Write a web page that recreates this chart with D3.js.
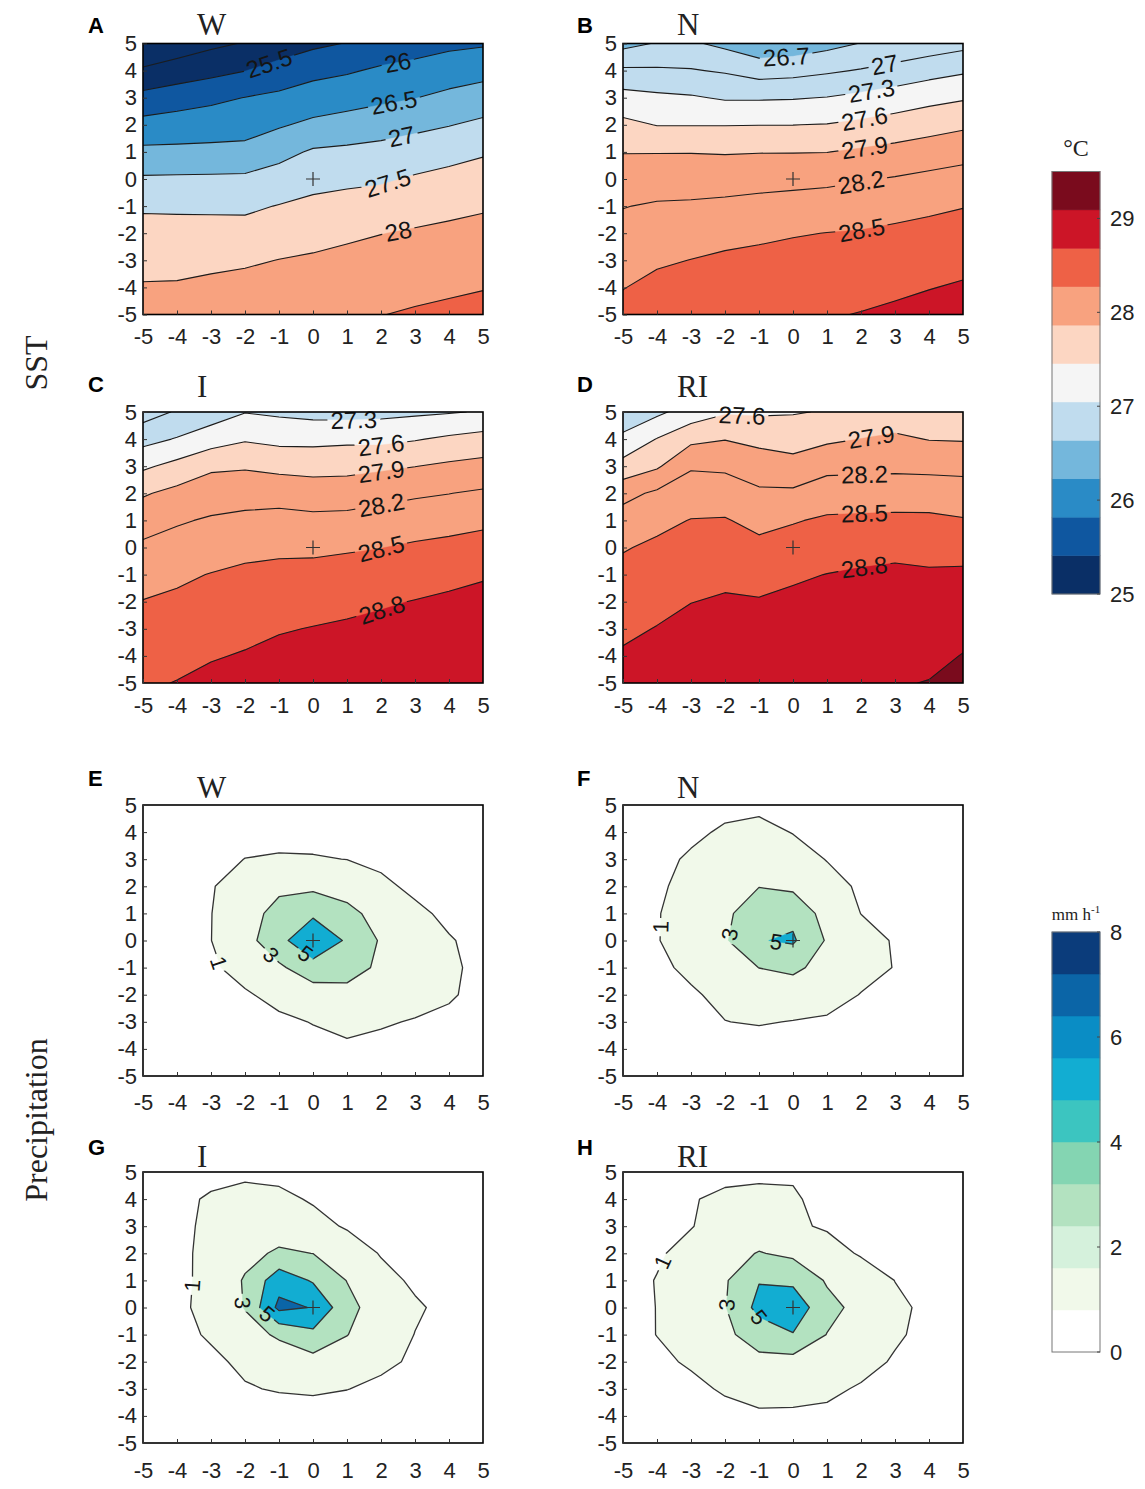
<!DOCTYPE html>
<html>
<head>
<meta charset="utf-8">
<script src="https://cdn.jsdelivr.net/npm/d3@7"></script>
<style>
  body { margin: 0; background: #fff; }
</style>
</head>
<body>
<div id="fig"></div>
<script>
// ---- data (11 x 11 grids, rows y = 5 .. -5, cols x = -5 .. 5) ----
const ticks = [-5, -4, -3, -2, -1, 0, 1, 2, 3, 4, 5];

const sstW = [
  24.6, 24.75, 24.9, 25.03, 25.2, 25.4, 25.52, 25.7, 25.8, 25.9, 25.95,
  25.06, 25.2, 25.35, 25.49, 25.7, 25.86, 25.95, 26.07, 26.15, 26.25, 26.34,
  25.66, 25.8, 25.9, 26.01, 26.1, 26.23, 26.3, 26.4, 26.49, 26.62, 26.73,
  26.16, 26.2, 26.25, 26.29, 26.45, 26.6, 26.7, 26.79, 26.88, 26.98, 27.1,
  26.61, 26.62, 26.63, 26.65, 26.85, 27.06, 27.1, 27.15, 27.25, 27.35, 27.45,
  27.06, 27.07, 27.08, 27.09, 27.2, 27.35, 27.4, 27.44, 27.55, 27.63, 27.71,
  27.44, 27.43, 27.42, 27.41, 27.52, 27.61, 27.67, 27.72, 27.8, 27.88, 27.95,
  27.66, 27.66, 27.67, 27.68, 27.76, 27.84, 27.92, 27.99, 28.05, 28.1, 28.14,
  27.85, 27.88, 27.9, 27.93, 28.01, 28.06, 28.12, 28.18, 28.23, 28.27, 28.31,
  28.04, 28.04, 28.1, 28.17, 28.2, 28.25, 28.3, 28.36, 28.38, 28.43, 28.48,
  28.2, 28.25, 28.33, 28.4, 28.42, 28.44, 28.47, 28.49, 28.55, 28.6, 28.65
];
const sstN = [
  26.61, 26.72, 26.74, 26.63, 26.5, 26.52, 26.61, 26.71, 26.76, 26.83, 26.91,
  27.05, 27.04, 27.02, 26.97, 26.87, 26.9, 26.96, 27.02, 27.1, 27.19, 27.26,
  27.41, 27.36, 27.33, 27.27, 27.27, 27.28, 27.31, 27.37, 27.44, 27.51, 27.57,
  27.67, 27.59, 27.59, 27.59, 27.595, 27.597, 27.61, 27.66, 27.72, 27.79, 27.85,
  27.89, 27.89, 27.89, 27.88, 27.89, 27.89, 27.895, 27.94, 27.99, 28.04, 28.1,
  28.04, 28.06, 28.07, 28.08, 28.1, 28.12, 28.14, 28.18, 28.22, 28.27, 28.31,
  28.19, 28.23, 28.24, 28.26, 28.29, 28.31, 28.33, 28.36, 28.41, 28.45, 28.49,
  28.29, 28.35, 28.37, 28.41, 28.44, 28.48, 28.505, 28.52, 28.55, 28.58, 28.61,
  28.4, 28.46, 28.505, 28.55, 28.58, 28.6, 28.59, 28.62, 28.65, 28.68, 28.72,
  28.49, 28.58, 28.63, 28.68, 28.7, 28.7, 28.69, 28.72, 28.75, 28.79, 28.83,
  28.6, 28.67, 28.75, 28.78, 28.78, 28.79, 28.78, 28.81, 28.85, 28.9, 28.95
];
const sstI = [
  26.87, 27.03, 27.15, 27.29, 27.25, 27.21, 27.2, 27.22, 27.25, 27.28, 27.32,
  27.2, 27.32, 27.46, 27.57, 27.52, 27.52, 27.54, 27.53, 27.58, 27.65, 27.71,
  27.55, 27.69, 27.85, 27.87, 27.82, 27.8, 27.81, 27.85, 27.895, 27.95, 27.99,
  27.87, 27.98, 28.06, 28.08, 28.09, 28.05, 28.06, 28.11, 28.16, 28.195, 28.24,
  28.08, 28.17, 28.23, 28.27, 28.29, 28.27, 28.28, 28.32, 28.36, 28.4, 28.44,
  28.25, 28.31, 28.37, 28.43, 28.45, 28.45, 28.47, 28.495, 28.54, 28.57, 28.61,
  28.38, 28.45, 28.51, 28.55, 28.57, 28.58, 28.61, 28.64, 28.67, 28.72, 28.77,
  28.51, 28.55, 28.6, 28.64, 28.68, 28.7, 28.73, 28.77, 28.81, 28.85, 28.89,
  28.59, 28.64, 28.69, 28.73, 28.78, 28.81, 28.84, 28.87, 28.9, 28.93, 28.96,
  28.67, 28.72, 28.78, 28.82, 28.87, 28.9, 28.92, 28.93, 28.96, 28.98, 29.01,
  28.76, 28.81, 28.87, 28.9, 28.95, 28.98, 28.98, 28.99, 29.01, 29.03, 29.05
];
const sstRI = [
  27.06, 27.24, 27.43, 27.57, 27.56, 27.58, 27.62, 27.69, 27.73, 27.7, 27.68,
  27.38, 27.61, 27.83, 27.89, 27.83, 27.78, 27.85, 27.905, 27.95, 27.89, 27.88,
  27.7, 27.86, 28.17, 28.15, 28.04, 28.0, 28.12, 28.13, 28.14, 28.13, 28.12,
  28.11, 28.25, 28.35, 28.35, 28.25, 28.25, 28.35, 28.36, 28.36, 28.35, 28.33,
  28.33, 28.43, 28.51, 28.52, 28.42, 28.48, 28.54, 28.55, 28.56, 28.56, 28.52,
  28.48, 28.55, 28.6, 28.63, 28.57, 28.62, 28.67, 28.69, 28.72, 28.72, 28.71,
  28.58, 28.64, 28.7, 28.74, 28.7, 28.76, 28.805, 28.84, 28.86, 28.83, 28.84,
  28.66, 28.73, 28.795, 28.83, 28.82, 28.86, 28.88, 28.91, 28.93, 28.9, 28.93,
  28.75, 28.81, 28.88, 28.9, 28.9, 28.93, 28.95, 28.97, 28.99, 28.96, 29.02,
  28.83, 28.9, 28.95, 28.97, 28.97, 28.99, 29.01, 29.02, 29.04, 29.03, 29.11,
  28.9, 28.98, 29.02, 29.03, 29.03, 29.05, 29.06, 29.07, 29.08, 29.11, 29.2
];

const preW = [
  0.05, 0.1, 0.2, 0.3, 0.35, 0.3, 0.3, 0.2, 0.15, 0.1, 0.05,
  0.1, 0.2, 0.35, 0.5, 0.6, 0.55, 0.5, 0.4, 0.25, 0.15, 0.1,
  0.1, 0.3, 0.6, 1.02, 1.12, 1.1, 0.98, 0.7, 0.4, 0.2, 0.1,
  0.2, 0.5, 0.9, 1.7, 2.5, 2.6, 2.1, 1.3, 0.7, 0.4, 0.2,
  0.3, 0.6, 0.97, 2.0, 3.8, 4.6, 3.6, 2.2, 1.3, 0.7, 0.4,
  0.3, 0.6, 0.98, 2.3, 4.3, 6.9, 4.7, 2.8, 1.9, 1.1, 0.6,
  0.2, 0.45, 0.8, 1.5, 2.7, 4.1, 3.9, 2.6, 1.8, 1.2, 0.7,
  0.1, 0.3, 0.5, 0.85, 1.4, 2.1, 2.3, 2.0, 1.6, 1.15, 0.6,
  0.05, 0.15, 0.3, 0.5, 0.75, 1.05, 1.4, 1.15, 0.9, 0.7, 0.4,
  0.03, 0.1, 0.2, 0.3, 0.45, 0.6, 0.75, 0.6, 0.45, 0.3, 0.2,
  0.02, 0.05, 0.1, 0.15, 0.2, 0.3, 0.35, 0.3, 0.2, 0.15, 0.1
];
const preN = [
  0.05, 0.15, 0.3, 0.6, 0.7, 0.5, 0.3, 0.15, 0.1, 0.05, 0.02,
  0.1, 0.35, 0.7, 1.2, 1.4, 0.95, 0.5, 0.3, 0.15, 0.05, 0.05,
  0.2, 0.6, 1.2, 1.7, 1.9, 1.6, 0.95, 0.5, 0.25, 0.1, 0.05,
  0.3, 0.8, 1.4, 2.2, 2.95, 2.6, 1.5, 0.8, 0.4, 0.2, 0.1,
  0.45, 0.95, 1.4, 2.6, 4.2, 4.5, 2.2, 0.98, 0.5, 0.25, 0.1,
  0.5, 0.95, 1.5, 2.8, 4.9, 5.25, 2.8, 1.7, 0.85, 0.4, 0.2,
  0.4, 0.75, 1.25, 2.1, 3.02, 3.4, 2.3, 1.5, 0.95, 0.45, 0.2,
  0.25, 0.5, 0.85, 1.3, 1.7, 1.9, 1.6, 0.95, 0.5, 0.25, 0.1,
  0.1, 0.25, 0.45, 0.98, 1.1, 0.95, 0.8, 0.5, 0.25, 0.1, 0.05,
  0.05, 0.1, 0.2, 0.35, 0.4, 0.35, 0.3, 0.2, 0.1, 0.05, 0.02,
  0.02, 0.05, 0.1, 0.15, 0.2, 0.15, 0.1, 0.1, 0.05, 0.02, 0.01
];
const preI = [
  0.05, 0.2, 0.5, 0.7, 0.6, 0.35, 0.2, 0.1, 0.05, 0.02, 0.01,
  0.15, 0.6, 1.2, 1.5, 1.35, 0.85, 0.45, 0.2, 0.1, 0.05, 0.02,
  0.2, 0.65, 1.3, 1.9, 2.0, 1.5, 0.85, 0.45, 0.2, 0.1, 0.05,
  0.3, 0.7, 1.35, 2.4, 3.3, 2.98, 1.9, 0.9, 0.45, 0.2, 0.1,
  0.35, 0.75, 1.3, 3.2, 6.2, 4.8, 2.95, 1.5, 0.75, 0.35, 0.15,
  0.4, 0.8, 1.3, 3.1, 7.5, 6.9, 3.6, 2.0, 1.2, 0.6, 0.3,
  0.3, 0.65, 1.15, 2.2, 3.3, 4.5, 3.05, 1.9, 0.97, 0.5, 0.2,
  0.15, 0.4, 0.75, 1.25, 1.8, 2.3, 2.0, 1.3, 0.8, 0.35, 0.15,
  0.05, 0.2, 0.4, 0.9, 1.1, 1.2, 1.03, 0.7, 0.35, 0.15, 0.05,
  0.02, 0.1, 0.2, 0.3, 0.4, 0.4, 0.35, 0.25, 0.15, 0.05, 0.02,
  0.01, 0.05, 0.1, 0.15, 0.2, 0.2, 0.15, 0.1, 0.05, 0.02, 0.01
];
const preRI = [
  0.1, 0.2, 0.4, 0.6, 0.7, 0.85, 0.3, 0.15, 0.1, 0.05, 0.02,
  0.2, 0.4, 0.9, 1.3, 1.4, 1.15, 0.6, 0.3, 0.15, 0.1, 0.05,
  0.3, 0.55, 0.95, 1.5, 1.8, 1.2, 0.85, 0.5, 0.3, 0.15, 0.1,
  0.4, 0.85, 1.4, 2.3, 3.1, 2.6, 1.6, 0.85, 0.5, 0.3, 0.15,
  0.55, 1.05, 1.6, 2.8, 4.9, 4.6, 2.8, 1.9, 0.98, 0.55, 0.3,
  0.6, 1.02, 1.6, 2.9, 5.6, 6.3, 3.6, 2.4, 1.3, 0.7, 0.4,
  0.55, 1.02, 1.5, 2.6, 3.9, 4.9, 2.95, 2.0, 1.2, 0.6, 0.3,
  0.4, 0.75, 1.15, 1.8, 2.5, 2.3, 2.1, 1.5, 0.85, 0.4, 0.2,
  0.2, 0.4, 0.7, 1.15, 1.5, 1.55, 1.3, 0.85, 0.5, 0.2, 0.1,
  0.1, 0.2, 0.35, 0.6, 0.8, 0.75, 0.7, 0.4, 0.2, 0.1, 0.05,
  0.05, 0.1, 0.2, 0.3, 0.4, 0.4, 0.35, 0.2, 0.1, 0.05, 0.02
];

// contour levels
const levW = [25.0, 25.5, 26.0, 26.5, 27.0, 27.5, 28.0, 28.5];
const levN = [26.7, 27.0, 27.3, 27.6, 27.9, 28.2, 28.5, 28.8];
const levI = [27.0, 27.3, 27.6, 27.9, 28.2, 28.5, 28.8];
const levRI = [27.3, 27.6, 27.9, 28.2, 28.5, 28.8, 29.1];
const levPre = [1, 3, 5, 7];

// inline labels: [level, x, y] near where they sit
const labW = [[25.5, -1.3, 4.3], [26, 2.5, 4.25], [26.5, 2.4, 2.7], [27, 2.6, 1.6], [27.5, 2.2, -0.15], [28, 2.5, -1.85]];
const labN = [[26.7, -0.2, 4.5], [27, 2.7, 4.2], [27.3, 2.3, 3.3], [27.6, 2.1, 2.25], [27.9, 2.1, 1.2], [28.2, 2.0, -0.1], [28.5, 2.0, -1.75]];
const labI = [[27.3, 1.2, 4.7], [27.6, 2.0, 3.8], [27.9, 2.0, 2.85], [28.2, 2.0, 1.65], [28.5, 2.0, 0.0], [28.8, 2.0, -2.2]];
const labRI = [[27.6, -1.5, 4.87], [27.9, 2.3, 4.1], [28.2, 2.1, 2.72], [28.5, 2.1, 1.33], [28.8, 2.1, -0.75]];
const labPW = [[1, -2.6, -0.75], [3, -1.25, -0.55], [5, -0.2, -0.45]];
const labPN = [[1, -4.0, 0.5], [3, -1.96, 0.25], [5, -0.5, -0.1]];
const labPI = [[1, -3.5, 0.8], [3, -2.35, 0.15], [5, -1.26, -0.1]];
const labPRI = [[1, -3.7, 1.6], [3, -2.0, 0.1], [5, -1.1, -0.46]];

// colour bars
const sstColors = ["#0a2f66", "#0f57a0", "#2a8bc6", "#74b7dc", "#c0dcee", "#f5f5f5",
                   "#fcd6c2", "#f8a27f", "#ee6146", "#cc1527", "#7a0b1d"];
const sstTicks = [25, 26, 27, 28, 29];
const preColors = ["#ffffff", "#f1f9ea", "#d5f1dc", "#b3e2c0", "#84d5b2", "#3cc5c0",
                   "#12add2", "#0a8dc5", "#0b65a7", "#0b3c7b"];
const preTicks = [0, 2, 4, 6, 8];

// ---- drawing ----
const W = 1145, H = 1489, PW = 340, PH = 271;
const SANS = "'Liberation Sans', Arial, Helvetica, sans-serif";
const SERIF = "'Liberation Serif', 'Times New Roman', serif";

const sstColor = d3.scaleQuantize().domain([25, 29.5]).range(sstColors);
const preColor = d3.scaleQuantize().domain([0, 8]).range(preColors);

const svg = d3.select("#fig").append("svg")
    .attr("width", W)
    .attr("height", H)
    .attr("viewBox", [0, 0, W, H]);

const cols = [143, 623];
const rows = [
  { top: 43.5, letterY: 33, titleY: 35, pad: 14 },
  { top: 412, letterY: 392, titleY: 397, pad: 14 },
  { top: 805, letterY: 786, titleY: 798, pad: 18 },
  { top: 1172, letterY: 1155, titleY: 1167, pad: 19 }
];
const letterX = [88, 577];

const panels = [
  { key: "A", title: "W", grid: sstW, levels: levW, labels: labW, base: 24.5, color: sstColor, r: 0, c: 0, pre: false },
  { key: "B", title: "N", grid: sstN, levels: levN, labels: labN, base: 26.4, color: sstColor, r: 0, c: 1, pre: false },
  { key: "C", title: "I", grid: sstI, levels: levI, labels: labI, base: 26.7, color: sstColor, r: 1, c: 0, pre: false },
  { key: "D", title: "RI", grid: sstRI, levels: levRI, labels: labRI, base: 27.0, color: sstColor, r: 1, c: 1, pre: false },
  { key: "E", title: "W", grid: preW, levels: levPre, labels: labPW, base: 0, color: preColor, r: 2, c: 0, pre: true },
  { key: "F", title: "N", grid: preN, levels: levPre, labels: labPN, base: 0, color: preColor, r: 2, c: 1, pre: true },
  { key: "G", title: "I", grid: preI, levels: levPre, labels: labPI, base: 0, color: preColor, r: 3, c: 0, pre: true },
  { key: "H", title: "RI", grid: preRI, levels: levPre, labels: labPRI, base: 0, color: preColor, r: 3, c: 1, pre: true }
];

const defs = svg.append("defs");

function drawPanel(p) {
  const left = cols[p.c], top = rows[p.r].top;
  const x = d3.scaleLinear().domain([-5, 5]).range([left, left + PW]);
  const y = d3.scaleLinear().domain([-5, 5]).range([top + PH, top]);

  // grid value i sits at contour coordinate i + 0.5
  const proj = d3.geoTransform({
    point: function (cx, cy) { this.stream.point(x(cx - 5.5), y(5.5 - cy)); }
  });
  const path = d3.geoPath(proj);
  const contours = d3.contours().size([11, 11]).thresholds(p.levels)(p.grid);

  defs.append("clipPath").attr("id", "clip" + p.key)
    .append("rect")
      .attr("x", left).attr("y", top)
      .attr("width", PW).attr("height", PH);

  const g = svg.append("g");
  const fills = g.append("g").attr("clip-path", `url(#clip${p.key})`);
  fills.append("rect")
      .attr("x", left).attr("y", top)
      .attr("width", PW).attr("height", PH)
      .attr("fill", p.pre ? "#ffffff" : p.color(p.base));
  fills.selectAll("path.fill")
    .data(contours)
    .join("path")
      .attr("class", "fill")
      .attr("d", path)
      .attr("fill", d => p.color(d.value))
      .attr("stroke", d => p.color(d.value))
      .attr("stroke-width", 0.4);

  // inline labels, snapped onto their contour line
  const fs = p.pre ? 22 : 24;
  const labs = [];
  p.labels.forEach(([lev, lx, ly]) => {
    const ct = contours.find(d => Math.abs(d.value - lev) < 1e-6);
    if (!ct) return;
    const tx = x(lx), ty = y(ly);
    let best = null;
    ct.coordinates.forEach(poly => poly.forEach(ring => {
      for (let i = 0; i < ring.length - 1; i++) {
        const ax = x(ring[i][0] - 5.5), ay = y(5.5 - ring[i][1]);
        const bx = x(ring[i + 1][0] - 5.5), by = y(5.5 - ring[i + 1][1]);
        if (Math.max(ax, bx) < left + 2 || Math.min(ax, bx) > left + PW - 2 ||
            Math.max(ay, by) < top + 2 || Math.min(ay, by) > top + PH - 2) continue;
        const dx = bx - ax, dy = by - ay, L2 = dx * dx + dy * dy || 1;
        let t = ((tx - ax) * dx + (ty - ay) * dy) / L2;
        t = Math.max(0, Math.min(1, t));
        const px = ax + t * dx, py = ay + t * dy;
        const dd = (px - tx) ** 2 + (py - ty) ** 2;
        if (!best || dd < best.dd) best = { dd, px, py, a: Math.atan2(dy, dx) * 180 / Math.PI };
      }
    }));
    if (!best) return;
    let a = best.a;
    if (a > 90) a -= 180;
    if (a < -90) a += 180;
    labs.push({ text: String(lev), px: best.px, py: best.py, a });
  });

  const mask = defs.append("mask").attr("id", "mask" + p.key)
      .attr("maskUnits", "userSpaceOnUse")
      .attr("x", 0).attr("y", 0).attr("width", W).attr("height", H);
  mask.append("rect").attr("width", W).attr("height", H).attr("fill", "white");

  const lines = g.append("g").attr("clip-path", `url(#clip${p.key})`)
    .append("g").attr("mask", `url(#mask${p.key})`);
  lines.selectAll("path")
    .data(contours)
    .join("path")
      .attr("d", path)
      .attr("fill", "none")
      .attr("stroke", p.pre ? "#333" : "#1c1c1c")
      .attr("stroke-width", p.pre ? 1.3 : 1.1)
      .attr("stroke-linejoin", "round");

  const labG = g.append("g");
  labs.forEach(l => {
    const t = labG.append("text")
        .attr("transform", `translate(${l.px},${l.py}) rotate(${l.a})`)
        .attr("text-anchor", "middle")
        .attr("dy", "0.36em")
        .attr("font-family", SANS)
        .attr("font-size", fs)
        .attr("fill", "#151515")
        .text(l.text);
    const w = t.node().getComputedTextLength();
    mask.append("rect")
        .attr("transform", `translate(${l.px},${l.py}) rotate(${l.a})`)
        .attr("x", -w / 2 - 3).attr("y", -fs * 0.42)
        .attr("width", w + 6).attr("height", fs * 0.84)
        .attr("fill", "black");
  });

  // storm centre marker
  const cx0 = x(0), cy0 = y(0);
  g.append("path")
      .attr("d", `M${cx0 - 7},${cy0}H${cx0 + 7}M${cx0},${cy0 - 7}V${cy0 + 7}`)
      .attr("stroke", "#333")
      .attr("stroke-width", 1.2);

  // axes (ticks point inwards)
  svg.append("g")
      .attr("transform", `translate(0,${top + PH})`)
      .call(d3.axisBottom(x).tickValues(ticks).tickFormat(d => String(d))
        .tickSizeInner(-4).tickSizeOuter(0).tickPadding(rows[p.r].pad))
      .call(a => a.select(".domain").remove())
      .attr("font-size", 22)
      .attr("font-family", SANS)
      .call(a => a.selectAll("text").attr("fill", "#222"))
      .call(a => a.selectAll("line").attr("stroke", "#333"));

  svg.append("g")
      .attr("transform", `translate(${left},0)`)
      .call(d3.axisLeft(y).tickValues(ticks).tickFormat(d => String(d))
        .tickSizeInner(-4).tickSizeOuter(0).tickPadding(6))
      .call(a => a.select(".domain").remove())
      .attr("font-size", 22)
      .attr("font-family", SANS)
      .call(a => a.selectAll("text").attr("fill", "#222"))
      .call(a => a.selectAll("line").attr("stroke", "#333"));

  g.append("rect")
      .attr("x", left).attr("y", top)
      .attr("width", PW).attr("height", PH)
      .attr("fill", "none")
      .attr("stroke", "#000")
      .attr("stroke-width", 1.6);

  // panel letter and case title
  svg.append("text")
      .attr("x", letterX[p.c]).attr("y", rows[p.r].letterY)
      .attr("font-family", SANS).attr("font-weight", "bold").attr("font-size", 22)
      .text(p.key);
  svg.append("text")
      .attr("x", left + 54).attr("y", rows[p.r].titleY)
      .attr("font-family", SERIF).attr("font-size", 31)
      .attr("fill", "#222")
      .text(p.title);
}

panels.forEach(drawPanel);

// ---- colour bars ----
function drawBar(color, ticksArr, domain, y0, y1) {
  const bx = 1052, bw = 48;
  const yb = d3.scaleLinear().domain(domain).range([y0, y1]);
  const g = svg.append("g");
  g.selectAll("rect.band")
    .data(color.range())
    .join("rect")
      .attr("class", "band")
      .attr("x", bx)
      .attr("width", bw)
      .attr("y", c => yb(color.invertExtent(c)[1]))
      .attr("height", c => yb(color.invertExtent(c)[0]) - yb(color.invertExtent(c)[1]))
      .attr("fill", c => c)
      .attr("stroke", c => c)
      .attr("stroke-width", 0.5);
  g.append("rect")
      .attr("x", bx).attr("y", y1)
      .attr("width", bw).attr("height", y0 - y1)
      .attr("fill", "none")
      .attr("stroke", "#777")
      .attr("stroke-width", 1);
  g.selectAll("line.tk")
    .data(ticksArr)
    .join("line")
      .attr("class", "tk")
      .attr("x1", bx + bw - 3).attr("x2", bx + bw)
      .attr("y1", d => yb(d)).attr("y2", d => yb(d))
      .attr("stroke", "#444");
  g.selectAll("text")
    .data(ticksArr)
    .join("text")
      .attr("x", bx + bw + 10)
      .attr("y", d => yb(d))
      .attr("dy", "0.36em")
      .attr("font-family", SANS)
      .attr("font-size", 22)
      .attr("fill", "#222")
      .text(d => String(d));
}

drawBar(sstColor, sstTicks, [25, 29.5], 594, 171.5);
drawBar(preColor, preTicks, [0, 8], 1352, 932);

svg.append("text")
    .attr("x", 1076).attr("y", 156)
    .attr("text-anchor", "middle")
    .attr("font-family", SERIF).attr("font-size", 24)
    .attr("fill", "#222")
    .text("°C");

const unit = svg.append("text")
    .attr("x", 1076).attr("y", 920)
    .attr("text-anchor", "middle")
    .attr("font-family", SERIF).attr("font-size", 17)
    .attr("fill", "#222");
unit.append("tspan").text("mm h");
unit.append("tspan").attr("dy", -7).attr("font-size", 11).text("-1");

// row titles
[["SST", 363], ["Precipitation", 1120]].forEach(([t, cy]) => {
  svg.append("text")
      .attr("transform", `translate(36,${cy}) rotate(-90)`)
      .attr("text-anchor", "middle")
      .attr("dy", "0.35em")
      .attr("font-family", SERIF)
      .attr("font-size", 32)
      .attr("fill", "#222")
      .text(t);
});
</script>
</body>
</html>
